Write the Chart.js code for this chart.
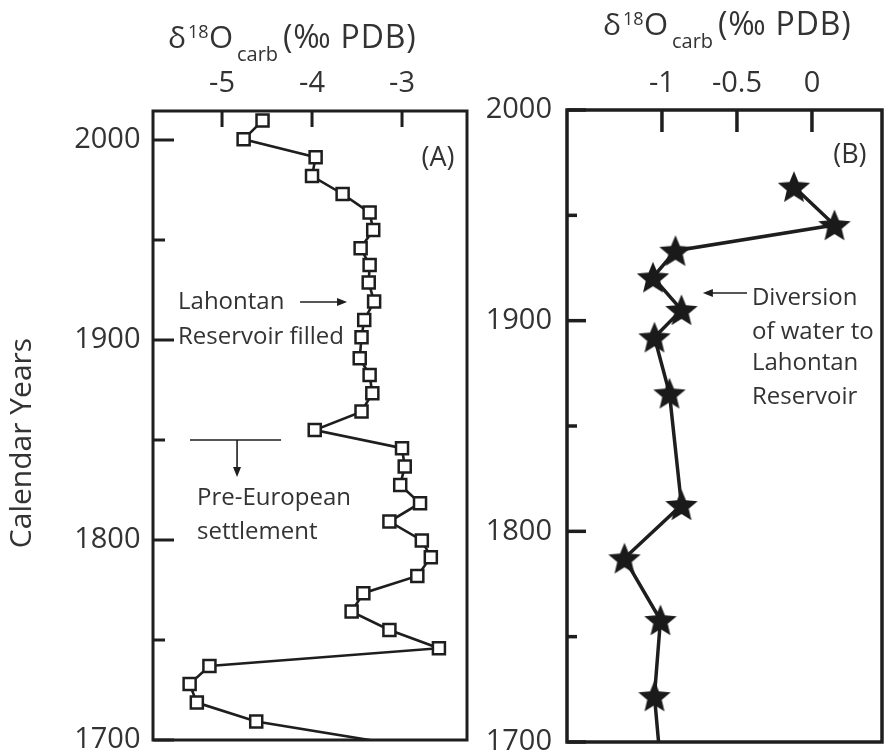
<!DOCTYPE html>
<html><head><meta charset="utf-8">
<script src="https://cdn.jsdelivr.net/npm/chart.js@4.4.1/dist/chart.umd.min.js"></script>
<style>
html,body{margin:0;padding:0;background:#fff;}
#wrap{position:relative;width:884px;height:756px;overflow:hidden;background:#fff;}
canvas{position:absolute;top:0;}
</style></head><body>
<div id="wrap">
<canvas id="ca" style="left:0;width:480px;height:756px" width="480" height="756"></canvas>
<canvas id="cb" style="left:480px;width:404px;height:756px" width="404" height="756"></canvas>
</div>
<script>
// ---------- data ----------
const yearTicks = [1700, 1800, 1900, 2000];
const yearMinorTicks = [1750, 1850, 1950];
const tickA = [-5, -4, -3];
const tickB = [-1, -0.5, 0];

// Panel A: Lahontan record (squares)
const yearsA = [2009.7, 2000.4, 1991.4, 1982.0, 1973.0, 1963.7, 1955.0, 1945.9, 1937.5, 1928.7,
                1919.2, 1910.0, 1901.4, 1890.9, 1882.5, 1873.4, 1864.2, 1855.0, 1845.9, 1836.7,
                1827.5, 1818.4, 1809.2, 1799.8, 1791.4, 1782.0, 1773.4, 1764.2, 1755.0, 1745.9,
                1737.0, 1728.0, 1718.7, 1709.2, 1698.0];
const d18oA = [-4.55, -4.76, -3.96, -4.00, -3.66, -3.36, -3.32, -3.46, -3.36, -3.37,
               -3.31, -3.42, -3.45, -3.47, -3.36, -3.33, -3.45, -3.97, -3.00, -2.97,
               -3.02, -2.80, -3.14, -2.78, -2.68, -2.83, -3.43, -3.56, -3.14, -2.59,
               -5.14, -5.36, -5.28, -4.62, -3.09];

// Panel B: record (stars)
const yearsB = [1963.6, 1945.4, 1933.2, 1920.6, 1905.1, 1892.1, 1865.5, 1812.5, 1787.2, 1757.9, 1721.8, 1690.0];
const d18oB = [-0.12, 0.15, -0.91, -1.06, -0.87, -1.05, -0.95, -0.87, -1.25, -1.01, -1.05, -1.01];

// ---------- helpers ----------
const INK = '#1e1e1e';
const TXT = '#333333';
const FONT = "'Open Sans'";
Chart.defaults.font.family = FONT;
Chart.defaults.color = TXT;

function pts(xs, ys) { return xs.map((v, i) => ({ x: v, y: ys[i] })); }

function makeStar(R, r, color) {
  const s = Math.ceil(2 * R + 2);
  const c = document.createElement('canvas');
  c.width = s; c.height = s;
  const g = c.getContext('2d');
  g.fillStyle = color;
  g.beginPath();
  for (let i = 0; i < 10; i++) {
    const rad = i % 2 ? r : R;
    const ang = -Math.PI / 2 + i * Math.PI / 5;
    const px = s / 2 + rad * Math.cos(ang), py = s / 2 + rad * Math.sin(ang) + 1.5;
    if (i) g.lineTo(px, py); else g.moveTo(px, py);
  }
  g.closePath();
  g.fill();
  return c;
}

function arrow(ctx, x1, y1, x2, y2, head) {
  const a = Math.atan2(y2 - y1, x2 - x1);
  ctx.beginPath(); ctx.moveTo(x1, y1); ctx.lineTo(x2 - head * 0.6 * Math.cos(a), y2 - head * 0.6 * Math.sin(a)); ctx.stroke();
  ctx.beginPath();
  ctx.moveTo(x2, y2);
  ctx.lineTo(x2 - head * Math.cos(a) + head * 0.4 * Math.sin(a), y2 - head * Math.sin(a) - head * 0.4 * Math.cos(a));
  ctx.lineTo(x2 - head * Math.cos(a) - head * 0.4 * Math.sin(a), y2 - head * Math.sin(a) + head * 0.4 * Math.cos(a));
  ctx.closePath(); ctx.fill();
}

const decor = {
  id: 'decor',
  afterDatasetsDraw(chart, args, o) {
    const { ctx, chartArea: a, scales: { x, y } } = chart;
    ctx.save();
    // ticks (inward)
    ctx.strokeStyle = INK; ctx.lineWidth = o.tickWidth; ctx.lineCap = 'butt';
    o.xTicks.forEach(v => {
      const px = x.getPixelForValue(v);
      ctx.beginPath(); ctx.moveTo(px, a.top); ctx.lineTo(px, a.top + o.xTickLen); ctx.stroke();
    });
    yearTicks.forEach(v => {
      const py = y.getPixelForValue(v);
      ctx.beginPath(); ctx.moveTo(a.left, py); ctx.lineTo(a.left + o.yTickLen, py); ctx.stroke();
    });
    yearMinorTicks.forEach(v => {
      const py = y.getPixelForValue(v);
      ctx.beginPath(); ctx.moveTo(a.left, py); ctx.lineTo(a.left + o.yMinorLen, py); ctx.stroke();
    });
    // frame
    ctx.lineWidth = o.boxWidth;
    ctx.strokeRect(a.left, a.top, a.right - a.left, a.bottom - a.top);

    // axis title with super/subscript
    const by = o.title.y;
    ctx.fillStyle = TXT; ctx.textBaseline = 'alphabetic'; ctx.textAlign = 'left';
    o.title.parts.forEach(p => {
      ctx.font = p.size + 'px ' + FONT;
      ctx.letterSpacing = (p.ls || 0) + 'px';
      ctx.fillText(p.t, o.title.x + p.dx, by + p.dy);
    });
    ctx.letterSpacing = '0px';

    // annotations
    ctx.textBaseline = 'middle';
    o.texts.forEach(t => {
      ctx.font = (t.size || o.annFont) + 'px ' + FONT;
      ctx.textAlign = t.align || 'left';
      ctx.fillText(t.t, x.getPixelForValue(t.x), y.getPixelForValue(t.y));
    });
    ctx.strokeStyle = INK; ctx.fillStyle = INK; ctx.lineWidth = 1.6;
    o.lines.forEach(l => {
      const x1 = x.getPixelForValue(l.x1), y1 = y.getPixelForValue(l.y1);
      const x2 = x.getPixelForValue(l.x2), y2 = y.getPixelForValue(l.y2);
      if (l.head) arrow(ctx, x1, y1, x2, y2, 10);
      else { ctx.beginPath(); ctx.moveTo(x1, y1); ctx.lineTo(x2, y2); ctx.stroke(); }
    });
    ctx.restore();
  }
};

// y-axis title (rotated) for panel A
const yTitle = {
  id: 'ytitle',
  afterDraw(chart, args, o) {
    if (!o.text) return;
    const { ctx } = chart;
    ctx.save();
    ctx.translate(o.x, o.y);
    ctx.rotate(-Math.PI / 2);
    ctx.font = o.size + 'px ' + FONT;
    ctx.fillStyle = TXT; ctx.textAlign = 'center'; ctx.textBaseline = 'middle';
    ctx.fillText(o.text, 0, 0);
    ctx.restore();
  }
};

function baseScales(xmin, xmax, xt, ymax, yWidth, xHeight, xPad, yPad) {
  return {
    x: {
      type: 'linear', position: 'top', min: xmin, max: xmax,
      afterBuildTicks: s => { s.ticks = xt.map(v => ({ value: v })); },
      afterFit: s => { s.height = xHeight; s.paddingLeft = 0; s.paddingRight = 0; },
      grid: { display: false, drawTicks: false }, border: { display: false },
      ticks: { padding: xPad, font: { size: 29 }, color: TXT, callback: v => String(v), maxRotation: 0 }
    },
    y: {
      type: 'linear', position: 'left', min: 1700, max: ymax,
      afterBuildTicks: s => { s.ticks = yearTicks.map(v => ({ value: v })); },
      afterFit: s => { s.width = yWidth; s.paddingTop = 0; s.paddingBottom = 0; },
      grid: { display: false, drawTicks: false }, border: { display: false },
      ticks: { padding: yPad, font: { size: 29 }, color: TXT, callback: v => String(v) }
    }
  };
}

const common = {
  responsive: false, animation: false, devicePixelRatio: 1,
  events: [],
  plugins: { legend: { display: false }, tooltip: { enabled: false } }
};

const titleParts = [
  { t: 'δ', size: 30, dx: 0, dy: 0 },
  { t: '18', size: 18, dx: 20, dy: -10 },
  { t: 'O', size: 31, dx: 41, dy: 0 },
  { t: 'carb', size: 20, dx: 69, dy: 13 },
  { t: '(‰ PDB)', size: 32, dx: 115, dy: 0, ls: 0.8 }
];

// ---------- Panel A ----------
new Chart(document.getElementById('ca'), {
  type: 'scatter',
  data: {
    datasets: [{
      data: pts(d18oA, yearsA),
      showLine: true,
      borderColor: INK, borderWidth: 2.6,
      pointStyle: 'rect',
      pointRadius: yearsA.map((v, i) => i === yearsA.length - 1 ? 0 : 8.5),
      pointBackgroundColor: '#ffffff', pointBorderColor: INK, pointBorderWidth: 2.5
    }]
  },
  options: Object.assign({}, common, {
    layout: { autoPadding: false, padding: { top: 0, left: 0, right: 13, bottom: 16 } },
    scales: baseScales(-5.767, -2.278, tickA, 2014.5, 153, 111, 9.5, 12.5),
    plugins: Object.assign({}, common.plugins, {
      decor: {
        tickWidth: 3, xTicks: tickA, xTickLen: 16, yTickLen: 21, yMinorLen: 12, boxWidth: 3,
        title: { x: 168, y: 48, parts: titleParts },
        annFont: 24,
        texts: [
          { t: '(A)', x: -2.6, y: 1991, align: 'center', size: 27 },
          { t: 'Lahontan', x: -5.489, y: 1919 },
          { t: 'Reservoir filled', x: -5.489, y: 1901.5 },
          { t: 'Pre-European', x: -5.278, y: 1821 },
          { t: 'settlement', x: -5.278, y: 1804 }
        ],
        lines: [
          { x1: -4.133, y1: 1919, x2: -3.611, y2: 1919, head: true },
          { x1: -5.356, y1: 1850, x2: -4.344, y2: 1850 },
          { x1: -4.833, y1: 1850, x2: -4.833, y2: 1831.5, head: true }
        ]
      },
      ytitle: { text: 'Calendar Years', x: 22, y: 443, size: 30 }
    })
  }),
  plugins: [decor, yTitle]
});

// ---------- Panel B ----------
const star = makeStar(17, 7.6, '#1a1a1a');
new Chart(document.getElementById('cb'), {
  type: 'scatter',
  data: {
    datasets: [{
      data: pts(d18oB, yearsB),
      showLine: true,
      borderColor: INK, borderWidth: 3.5,
      pointStyle: star,
      pointRadius: yearsB.map((v, i) => i === yearsB.length - 1 ? 0 : 17)
    }]
  },
  options: Object.assign({}, common, {
    layout: { autoPadding: false, padding: { top: 0, left: 0, right: 2, bottom: 14 } },
    scales: baseScales(-1.633, 0.467, tickB, 2000, 87, 110, 8.5, 15),
    plugins: Object.assign({}, common.plugins, {
      decor: {
        tickWidth: 3.5, xTicks: tickB, xTickLen: 22, yTickLen: 19, yMinorLen: 10, boxWidth: 3.5,
        title: { x: 123, y: 35, parts: titleParts },
        annFont: 24,
        texts: [
          { t: '(B)', x: 0.253, y: 1978.6, align: 'center', size: 27 },
          { t: 'Diversion', x: -0.4, y: 1910.8 },
          { t: 'of water to', x: -0.4, y: 1894.6 },
          { t: 'Lahontan', x: -0.4, y: 1879.9 },
          { t: 'Reservoir', x: -0.4, y: 1863.8 }
        ],
        lines: [
          { x1: -0.433, y1: 1913.1, x2: -0.727, y2: 1913.1, head: true }
        ]
      }
    })
  }),
  plugins: [decor]
});
</script>
</body></html>
